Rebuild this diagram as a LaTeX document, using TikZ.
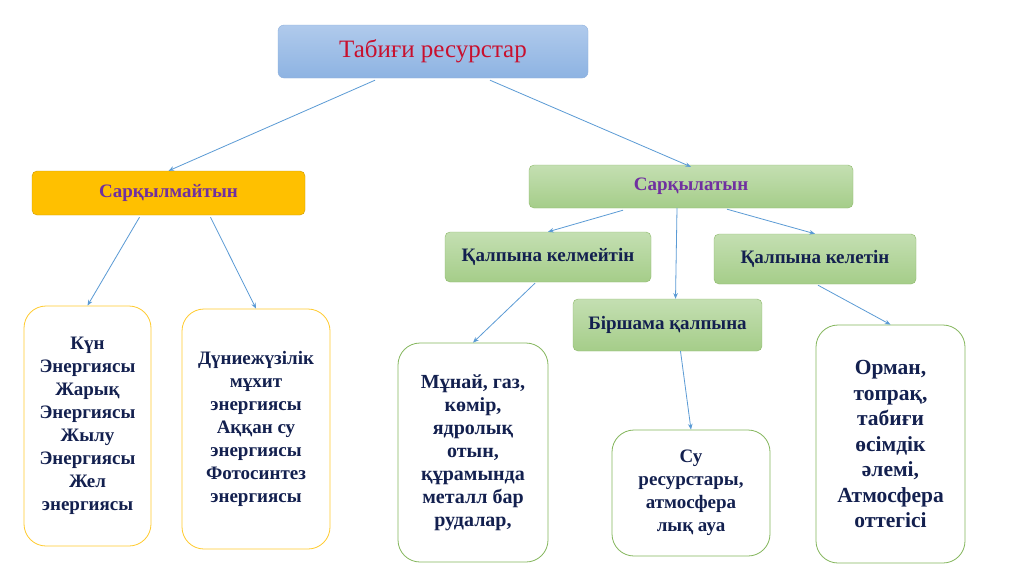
\documentclass[tikz,border=0pt]{standalone}
\usepackage{fontspec}
\setmainfont{Liberation Serif}
\usepackage{xcolor}
\usetikzlibrary{arrows.meta,positioning}
\definecolor{arrowblue}{HTML}{5B9BD5}
\definecolor{navy}{HTML}{13204F}
\definecolor{plum}{HTML}{7030A0}
\definecolor{crimson}{HTML}{C8102E}
\definecolor{gold}{HTML}{FFC000}
\definecolor{goldline}{HTML}{FFCB2E}
\definecolor{leafgreen}{HTML}{84B65C}
\definecolor{skytop}{HTML}{B0CAEC}
\definecolor{skybot}{HTML}{8DB3E2}
\definecolor{skyline}{HTML}{8EB0DD}
\definecolor{greentop}{HTML}{C4DFB2}
\definecolor{greenbot}{HTML}{A5CD89}
\definecolor{greenline}{HTML}{8EB96B}
\tikzset{
  >={Stealth[length=2mm,width=1.6mm]},
  rbox/.style={rounded corners=6pt,draw=skyline,top color=skytop,bottom color=skybot,minimum width=310pt,minimum height=53pt,font=\fontsize{25}{29}\selectfont,text=crimson},
  ybox/.style={rounded corners=5pt,draw=gold!80!black,fill=gold,minimum width=273pt,minimum height=44pt,font=\fontsize{19}{22}\selectfont\bfseries,text=plum},
  gbox/.style={rounded corners=5pt,draw=greenline,top color=greentop,bottom color=greenbot,minimum height=50pt,font=\fontsize{19}{22}\selectfont\bfseries,text=navy},
  leaf/.style={rounded corners=22pt,thick,fill=white,align=center,font=\fontsize{19}{23}\selectfont\bfseries,text=navy},
  yleaf/.style={leaf,draw=goldline},
  gleaf/.style={leaf,draw=leafgreen},
}

\begin{document}
\begin{tikzpicture}[x=1pt,y=-1pt,
  e/.style={arrowblue,line width=0.8pt,->}]
  \useasboundingbox[fill=white] (0,0) rectangle (1024,574);
  % top level
  \node[rbox] (root) at (433,51.5) {Табиғи ресурстар};
  \node[ybox] (sark1) at (168.5,193) {Сарқылмайтын};
  \node[gbox,minimum width=324pt,minimum height=43pt,text=plum] (sark2) at (691,186.5) {Сарқылатын};
  % second level
  \node[gbox,minimum width=206pt] (kelme) at (548,257) {Қалпына келмейтін};
  \node[gbox,minimum width=202pt] (kelet) at (815,259) {Қалпына келетін};
  \node[gbox,minimum width=189pt,minimum height=52pt] (birsh) at (667.5,325) {Біршама қалпына};
  % leaves
  \node[yleaf,minimum width=127pt,minimum height=240pt] (leaf1) at (87.5,426)
    {Күн\\Энергиясы\\Жарық\\Энергиясы\\Жылу\\Энергиясы\\Жел\\энергиясы};
  \node[yleaf,minimum width=148pt,minimum height=240pt] (leaf2) at (256,429)
    {Дүниежүзілік\\мұхит\\энергиясы\\Аққан су\\энергиясы\\Фотосинтез\\энергиясы};
  \node[gleaf,minimum width=150pt,minimum height=219pt,font=\fontsize{20}{23}\selectfont\bfseries] (leaf3) at (473,452.5)
    {Мұнай, газ,\\көмір,\\ядролық\\отын,\\құрамында\\металл бар\\рудалар,};
  \node[gleaf,minimum width=158pt,minimum height=126pt] (leaf4) at (691,493)
    {Су\\ресурстары,\\атмосфера\\лық ауа};
  \node[gleaf,minimum width=149pt,minimum height=238pt,font=\fontsize{21.5}{25.5}\selectfont\bfseries] (leaf5) at (890.5,444)
    {Орман,\\топрақ,\\табиғи\\өсімдік\\әлемі,\\Атмосфера\\оттегісі};
  % connectors
  \draw[e] ([xshift=-58pt,yshift=-2pt]root.south) -- (sark1.north);
  \draw[e] ([xshift=57pt,yshift=-2pt]root.south) -- ([yshift=-2pt]sark2.north);
  \draw[e] ([xshift=-29pt,yshift=-2pt]sark1.south) -- (leaf1.north);
  \draw[e] ([xshift=42pt,yshift=-2pt]sark1.south) -- (leaf2.north);
  \draw[e] ([xshift=-68pt,yshift=-2pt]sark2.south) -- (kelme.north);
  \draw[e] ([xshift=-14pt]sark2.south) -- ([xshift=8pt]birsh.north);
  \draw[e] ([xshift=36pt,yshift=-1pt]sark2.south) -- (kelet.north);
  \draw[e] ([xshift=-13pt,yshift=-1pt]kelme.south) -- (leaf3.north);
  \draw[e] ([xshift=3pt,yshift=-1pt]kelet.south) -- (leaf5.north);
  \draw[e] ([xshift=13pt]birsh.south) -- (leaf4.north);
\end{tikzpicture}
\end{document}
